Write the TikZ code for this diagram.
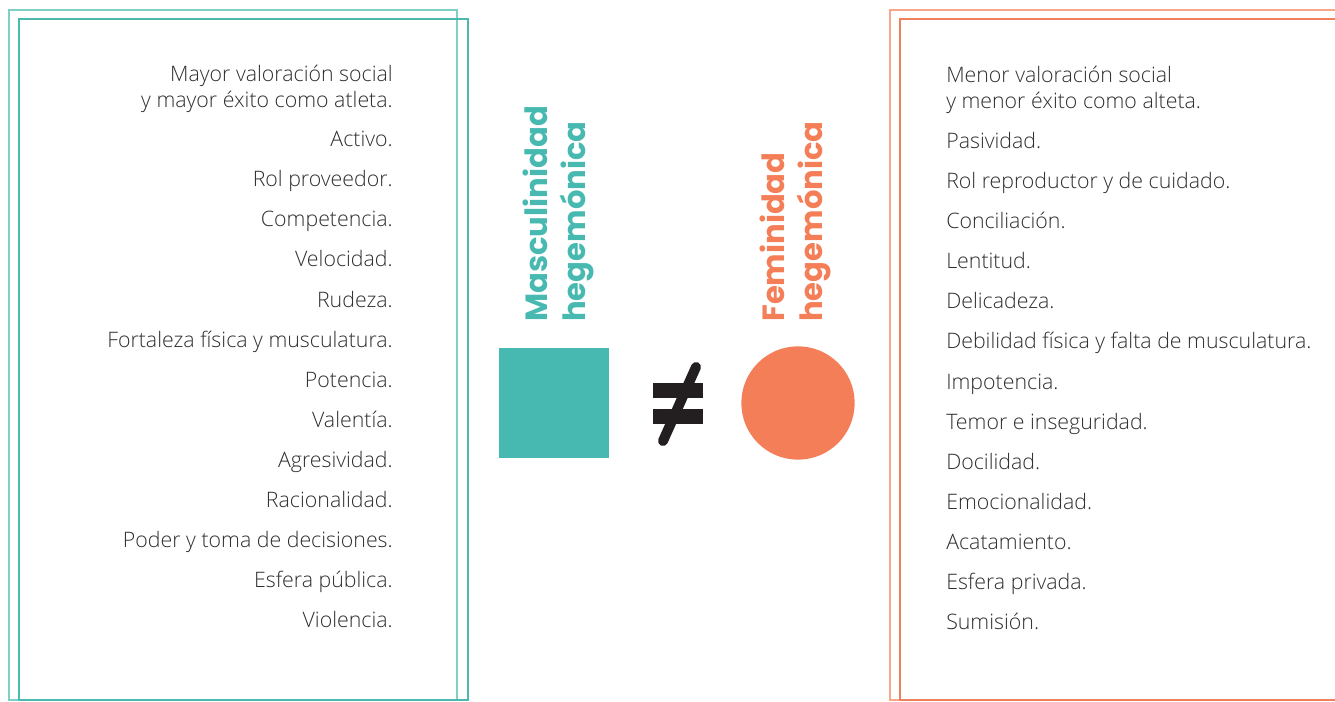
\documentclass[tikz,border=0pt]{standalone}
\usepackage{fontspec}
\setmainfont{Open Sans Light}
\newfontfamily\titlefont{Poppins Bold}
\usetikzlibrary{positioning}
\usepackage{xcolor}
\definecolor{tealfill}{HTML}{47B9B0}
\definecolor{tealline}{HTML}{4DB8AE}
\definecolor{teallight}{HTML}{7FCFC6}
\definecolor{orangefill}{HTML}{F47E57}
\definecolor{orangeline}{HTML}{F0805C}
\definecolor{orangelight}{HTML}{F6A889}
\definecolor{bodytext}{HTML}{2E2E2E}
\definecolor{neqcol}{HTML}{231F20}

\begin{document}
\begin{tikzpicture}[x=0.75pt, y=-0.75pt,
    lefttxt/.style={anchor=base east, inner sep=0pt, text=bodytext, font=\fontsize{16}{19.5}\selectfont, align=right},
    righttxt/.style={anchor=base west, inner sep=0pt, text=bodytext, font=\fontsize{16}{19.5}\selectfont, align=left},
    titletxt/.style={rotate=90, anchor=base west, inner sep=0pt, align=left, font=\titlefont\fontsize{23}{28}\selectfont}]
            \useasboundingbox (0,0) rectangle (1335,702);
            \clip (0,0) rectangle (1335,702);

            % Frames
            \draw[teallight, line width=1pt] (9,10) rectangle (457,700);
            \draw[tealline, line width=1pt] (19,19) rectangle (468,700);
            \draw[orangelight, line width=1pt] (890,10) rectangle (1345,700);
            \draw[orangeline, line width=1pt] (900,19) rectangle (1345,700);

            % Masculinidad list
            \node[lefttxt] (mayor) at (393,108) {Mayor valoración social\\y mayor éxito como atleta.};
            \node[lefttxt] (activo) at (393,147) {Activo.};
            \node[lefttxt] (proveedor) at (393,187) {Rol proveedor.};
            \node[lefttxt] (competencia) at (393,227) {Competencia.};
            \node[lefttxt] (velocidad) at (393,267) {Velocidad.};
            \node[lefttxt] (rudeza) at (393,307) {Rudeza.};
            \node[lefttxt] (fortaleza) at (393,347) {Fortaleza física y musculatura.};
            \node[lefttxt] (potencia) at (393,387) {Potencia.};
            \node[lefttxt] (valentia) at (393,427) {Valentía.};
            \node[lefttxt] (agresividad) at (393,467) {Agresividad.};
            \node[lefttxt] (racionalidad) at (393,507) {Racionalidad.};
            \node[lefttxt] (poder) at (393,547) {Poder y toma de decisiones.};
            \node[lefttxt] (publica) at (393,587) {Esfera pública.};
            \node[lefttxt] (violencia) at (393,627) {Violencia.};

            % Feminidad list
            \node[righttxt] (menor) at (946,109) {Menor valoración social\\y menor éxito como alteta.};
            \node[righttxt] (pasividad) at (946,149) {Pasividad.};
            \node[righttxt] (reproductor) at (946,189) {Rol reproductor y de cuidado.};
            \node[righttxt] (conciliacion) at (946,229) {Conciliación.};
            \node[righttxt] (lentitud) at (946,269) {Lentitud.};
            \node[righttxt] (delicadeza) at (946,309) {Delicadeza.};
            \node[righttxt] (debilidad) at (946,349) {Debilidad física y falta de musculatura.};
            \node[righttxt] (impotencia) at (946,389) {Impotencia.};
            \node[righttxt] (temor) at (946,429) {Temor e inseguridad.};
            \node[righttxt] (docilidad) at (946,469) {Docilidad.};
            \node[righttxt] (emocionalidad) at (946,509) {Emocionalidad.};
            \node[righttxt] (acatamiento) at (946,549) {Acatamiento.};
            \node[righttxt] (privada) at (946,589) {Esfera privada.};
            \node[righttxt] (sumision) at (946,629) {Sumisión.};

            % Titles
            \node[titletxt, text=tealfill] (masc) at (585,322) {Masculinidad\\hegemónica};
            \node[titletxt, text=orangefill] (fem) at (822,322) {Feminidad\\hegemónica};

            % Symbols
            \node[draw=none, fill=tealfill, minimum size=82.5pt, inner sep=0pt] (square) at (554,403) {};
            \node[draw=none, fill=orangefill, circle, minimum size=85pt, inner sep=0pt] (circ) at (798,403) {};
            \fill[neqcol] (653,383) rectangle (703,398);
            \fill[neqcol] (653,409) rectangle (703,424);
            \draw[neqcol, line width=7.5pt, line cap=round] (696,367) -- (663,441);
        \end{tikzpicture}
\end{document}
